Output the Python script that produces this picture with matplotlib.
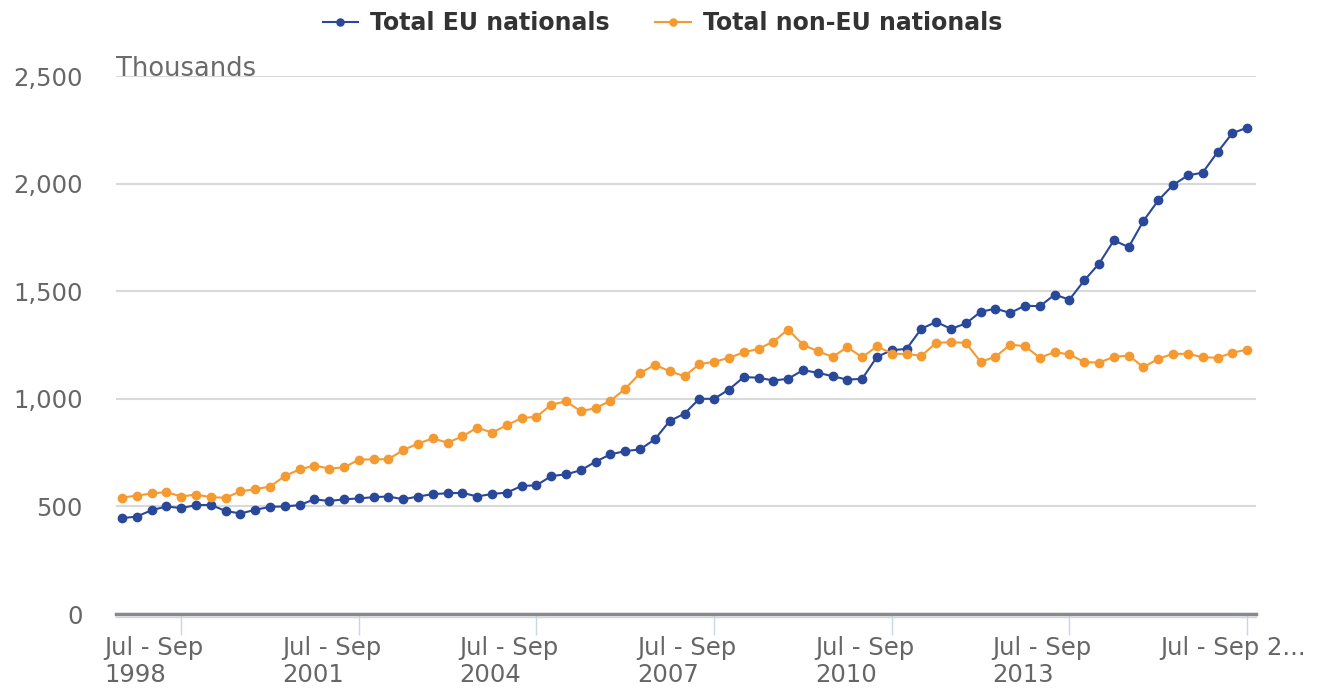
import matplotlib.pyplot as plt
import matplotlib.transforms as mtransforms

# Quarterly data, Jul-Sep 1997 .. Jul-Sep 2016 (thousands)
eu_nationals = [445, 453, 482, 500, 492, 506, 507, 479, 467, 484, 498, 500, 506, 533, 525, 533,
                537, 543, 546, 533, 546, 557, 561, 563, 546, 558, 564, 595, 598, 641, 649, 668,
                708, 742, 757, 765, 812, 897, 931, 1000, 1000, 1043, 1101, 1098, 1085, 1093, 1133,
                1121, 1105, 1089, 1093, 1195, 1226, 1232, 1326, 1357, 1325, 1350, 1404, 1419, 1399,
                1433, 1430, 1484, 1461, 1550, 1628, 1736, 1705, 1827, 1922, 1994, 2038, 2051, 2146,
                2234, 2260]
non_eu_nationals = [541, 550, 560, 567, 546, 555, 543, 540, 570, 580, 592, 641, 672, 690, 676, 681,
                    717, 719, 719, 762, 792, 816, 796, 826, 866, 843, 877, 911, 916, 973, 988, 942,
                    957, 991, 1047, 1119, 1158, 1128, 1105, 1161, 1172, 1190, 1216, 1232, 1266, 1322,
                    1251, 1221, 1195, 1240, 1193, 1244, 1210, 1208, 1200, 1260, 1263, 1260, 1172, 1195,
                    1252, 1244, 1191, 1217, 1206, 1171, 1168, 1195, 1201, 1147, 1186, 1209, 1209, 1193,
                    1191, 1214, 1229]
tick_idx = [4, 16, 28, 40, 52, 64, 76]
tick_labels = ['Jul - Sep\n1998', 'Jul - Sep\n2001', 'Jul - Sep\n2004', 'Jul - Sep\n2007',
               'Jul - Sep\n2010', 'Jul - Sep\n2013', 'Jul - Sep 2...']
y_ticks = [0, 500, 1000, 1500, 2000, 2500]

x = list(range(len(eu_nationals)))

fig = plt.figure(figsize=(13.22, 6.88), dpi=100)
ax = fig.add_axes([116 / 1322, 1 - 614 / 688, 1140 / 1322, 538 / 688])

blue = '#2a4899'
orange = '#f59a30'
ax.plot(x, eu_nationals, color=blue, lw=1.5, marker='o', ms=6, label='Total EU nationals', zorder=3)
ax.plot(x, non_eu_nationals, color=orange, lw=1.5, marker='o', ms=6, label='Total non-EU nationals', zorder=3)

ax.set_xlim(-0.4, 76.6)
ax.set_ylim(0, 2500)
ax.set_yticks(y_ticks)
ax.set_yticklabels(['{:,}'.format(v) for v in y_ticks])
ax.grid(axis='y', color='#d9d9d9', lw=1.5)
ax.set_axisbelow(True)

for s in ['top', 'right', 'left']:
    ax.spines[s].set_visible(False)
ax.spines['bottom'].set_color('#8a8a8a')
ax.spines['bottom'].set_linewidth(2.5)
ax.spines['bottom'].set_zorder(4)
# thin light line just under the axis line
ax.axhline(-12, color='#ccd6eb', lw=1, clip_on=False, zorder=3)

ax.tick_params(axis='y', length=0, pad=24, labelsize=17.5, labelcolor='#666666')
ax.set_xticks(tick_idx)
ax.set_xticklabels(tick_labels)
ax.tick_params(axis='x', length=15, width=1, color='#ccd6eb', labelsize=17.5,
               labelcolor='#666666', pad=1)
for i, lab in enumerate(ax.get_xticklabels()):
    lab.set_ha('left')
    lab.set_multialignment('left')
    lab.set_linespacing(1.12)
    dx = -0.87 if i == len(tick_labels) - 1 else -0.77
    lab.set_transform(lab.get_transform() + mtransforms.ScaledTranslation(dx, 0, fig.dpi_scale_trans))

ax.text(0, 1.0, 'Thousands', transform=ax.transAxes, ha='left', va='baseline',
        fontsize=18.5, color='#6b6b6b')

fig.legend(loc='upper center', bbox_to_anchor=(0.501, 1.015), ncol=2, frameon=False,
           prop={'weight': 'bold', 'size': 17}, labelcolor='#333333',
           handlelength=1.5, columnspacing=1.95, handletextpad=0.5, markerscale=0.85)

fig.savefig('out.png', dpi=100)
